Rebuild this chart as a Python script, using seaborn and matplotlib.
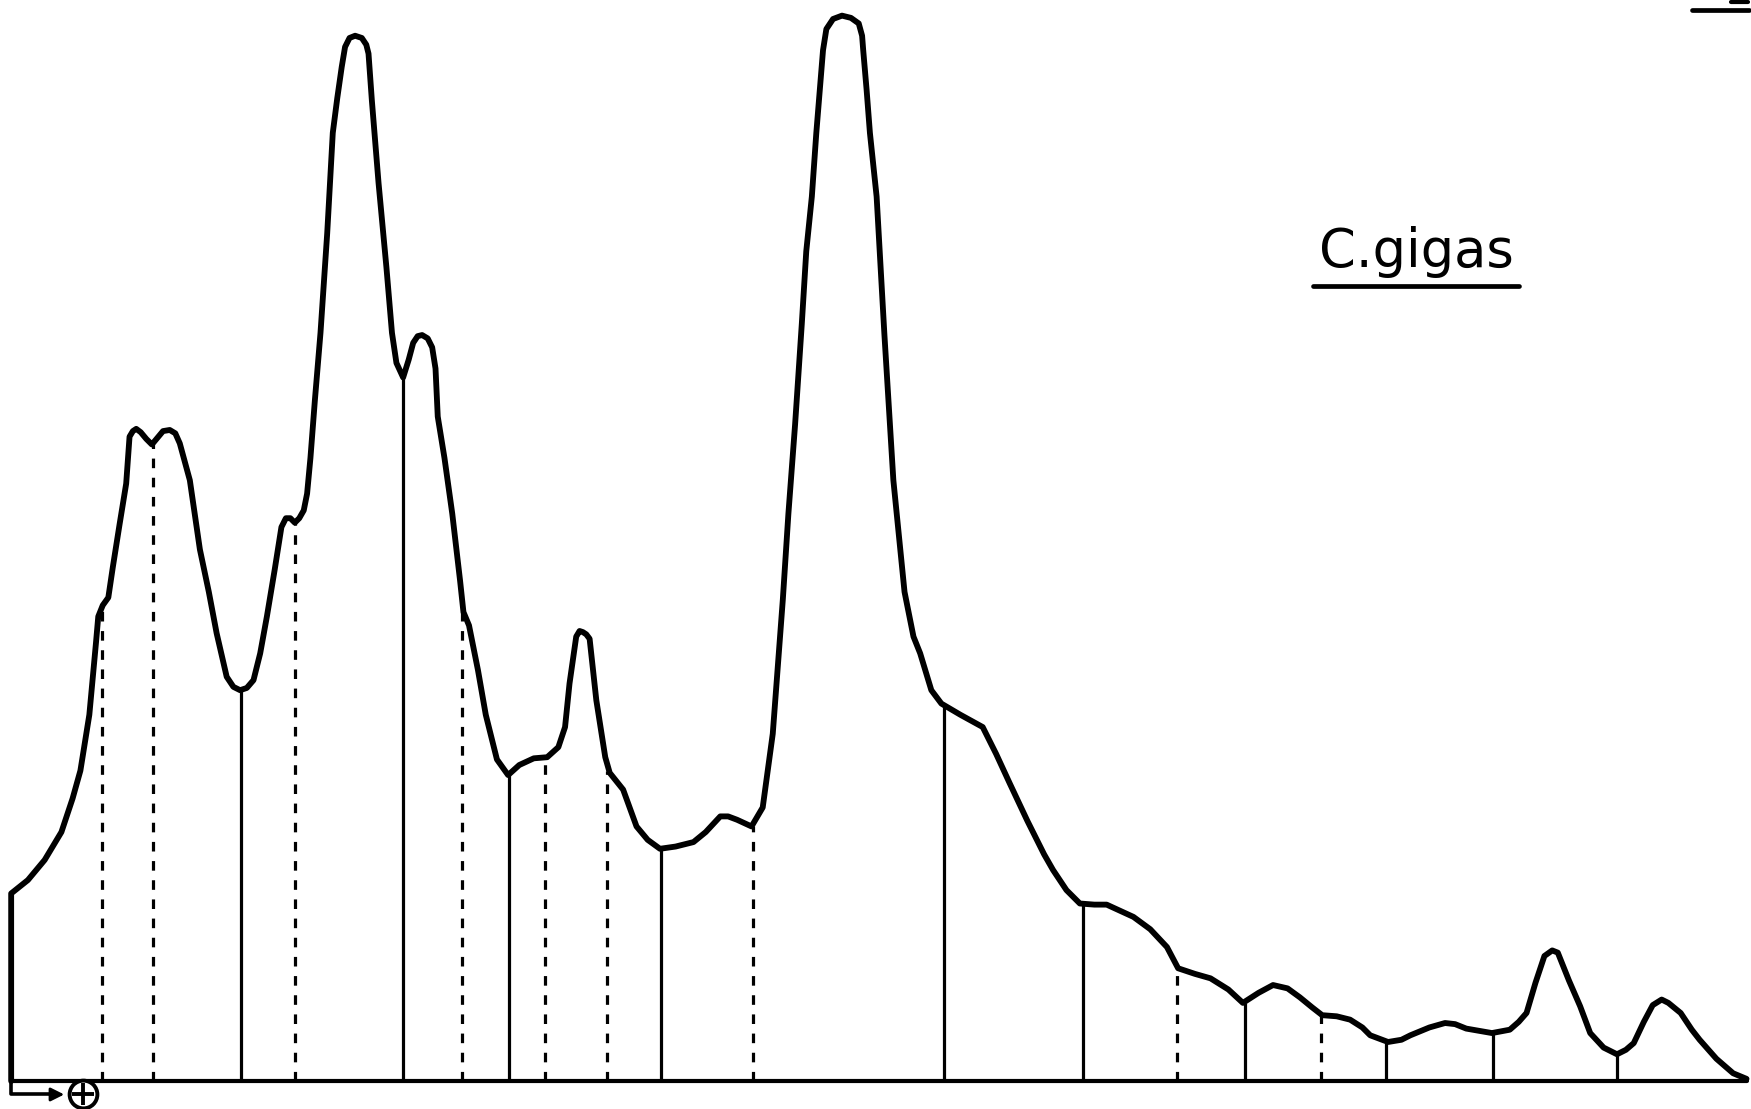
import numpy as np
import pandas as pd
import matplotlib
matplotlib.use("Agg")
import matplotlib.pyplot as plt
import seaborn as sns

# densitometer trace: (x position, y position of the pen)
trace_pts = [
    (10, 968), (10, 800), (25, 788), (40, 770), (55, 745), (65, 715), (72, 690), (80, 640),
    (86, 575), (88, 552), (92, 542), (97, 535), (101, 508), (107, 470), (113, 433), (116, 391),
    (119, 386), (122, 384), (126, 387), (131, 393), (136, 398), (141, 392), (146, 386),
    (152, 385), (157, 388), (161, 397), (170, 430), (179, 492), (187, 530), (194, 567),
    (203, 606), (209, 615), (215, 618), (221, 616), (227, 609), (233, 585), (239, 552),
    (246, 510), (252, 472), (256, 464), (260, 464), (264, 468), (268, 464), (272, 457),
    (275, 442), (278, 410), (282, 358), (287, 298), (293, 209), (298, 119), (302, 88),
    (306, 60), (309, 42), (313, 34), (318, 32), (324, 34), (328, 40), (330, 48), (333, 90),
    (339, 164), (346, 239), (351, 298), (355, 325), (361, 338), (366, 322), (370, 307),
    (374, 301), (378, 300), (383, 303), (387, 311), (390, 330), (392, 373), (398, 410),
    (405, 460), (412, 520), (415, 548), (420, 560), (428, 600), (435, 640), (445, 680),
    (455, 694), (465, 685), (478, 679), (490, 678), (500, 669), (506, 651), (510, 612),
    (516, 570), (519, 565), (522, 566), (525, 568), (528, 572), (534, 627), (542, 678),
    (546, 692), (558, 707), (570, 740), (580, 752), (591, 760), (605, 758), (621, 754),
    (632, 745), (645, 731), (652, 731), (660, 734), (673, 740), (683, 723), (692, 657),
    (701, 537), (706, 460), (712, 380), (718, 290), (722, 225), (727, 176), (731, 119),
    (735, 70), (737, 45), (740, 26), (746, 17), (754, 14), (762, 16), (769, 21), (772, 32),
    (773, 45), (776, 80), (779, 119), (785, 176), (792, 300), (800, 430), (810, 530),
    (818, 570), (824, 585), (834, 618), (843, 630), (860, 640), (880, 651), (892, 675),
    (904, 701), (920, 735), (935, 765), (943, 779), (955, 797), (967, 809), (980, 810),
    (991, 810), (1015, 821), (1030, 832), (1045, 848), (1055, 867), (1070, 872),
    (1084, 876), (1100, 886), (1113, 898), (1127, 889), (1140, 882), (1153, 885),
    (1164, 893), (1175, 902), (1184, 909), (1197, 910), (1209, 913), (1220, 920),
    (1227, 927), (1243, 933), (1255, 931), (1263, 927), (1280, 920), (1294, 916),
    (1303, 917), (1313, 921), (1336, 925), (1352, 922), (1360, 915), (1367, 907),
    (1375, 880), (1383, 856), (1390, 851), (1395, 853), (1405, 878), (1415, 901),
    (1424, 925), (1436, 938), (1448, 944), (1456, 940), (1463, 934), (1472, 915),
    (1480, 900), (1488, 895), (1494, 898), (1505, 907), (1515, 922), (1522, 931),
    (1537, 948), (1552, 961), (1564, 966),
]

baseline = 968

# fraction boundaries (x, y of the top end)
solid_x = [216, 361, 456, 592, 845, 970, 1115, 1241, 1337, 1448]
solid_top = [618, 338, 694, 760, 632, 809, 898, 933, 925, 944]
dashed_x = [91, 137, 264, 414, 488, 544, 674, 1054, 1183]
dashed_top = [545, 398, 468, 548, 678, 690, 740, 866, 908]

sns.set_style("white")
fig = plt.figure(figsize=(17.51, 11.09), dpi=100)
ax = fig.add_axes([0, 0, 1, 1])

df = pd.DataFrame(trace_pts, columns=["x", "y"])
df["h"] = baseline - df["y"]
sns.lineplot(data=df, x="x", y="h", sort=False, estimator=None, color="black",
             linewidth=4.2, ax=ax)
for line in ax.get_lines():
    line.set_solid_joinstyle("round")
    line.set_solid_capstyle("round")

for x, t in zip(solid_x, solid_top):
    ax.plot([x, x], [0, baseline - t], color="black", lw=2.3, solid_capstyle="butt")
for x, t in zip(dashed_x, dashed_top):
    ax.plot([x, x], [0, baseline - t], color="black", lw=2.3, linestyle=(0, (3, 3)))

# baseline
ax.plot([10, 1564], [0, 0], color="black", lw=3.0)

# direction marker at lower left
ax.plot([10, 10, 46], [0, -12, -12], color="black", lw=2.6)
ax.annotate("", xy=(60, -12), xytext=(42, -12),
            arrowprops=dict(arrowstyle="-|>", color="black", lw=2.0, mutation_scale=20))
ax.plot([74], [-12], marker="o", ms=20, mfc="white", mec="black", mew=2.8)
ax.plot([74], [-12], marker="+", ms=16, mec="black", mew=2.8)

# label
ax.text(1268, baseline - 226, "C.gigas", fontsize=38, ha="center", va="center",
        color="black", family="DejaVu Sans")
ax.plot([1176, 1360], [baseline - 256, baseline - 256], color="black", lw=3.4)

# cut-off mark at top right
ax.plot([1515, 1566], [baseline - 9, baseline - 9], color="black", lw=3.4)
ax.plot([1550, 1565], [baseline - 2, baseline - 2], color="black", lw=3.0)

ax.set_xlim(0, 1568)
ax.set_ylim(-25, 968)
ax.axis("off")

fig.savefig("out.png", dpi=100, facecolor="white")
